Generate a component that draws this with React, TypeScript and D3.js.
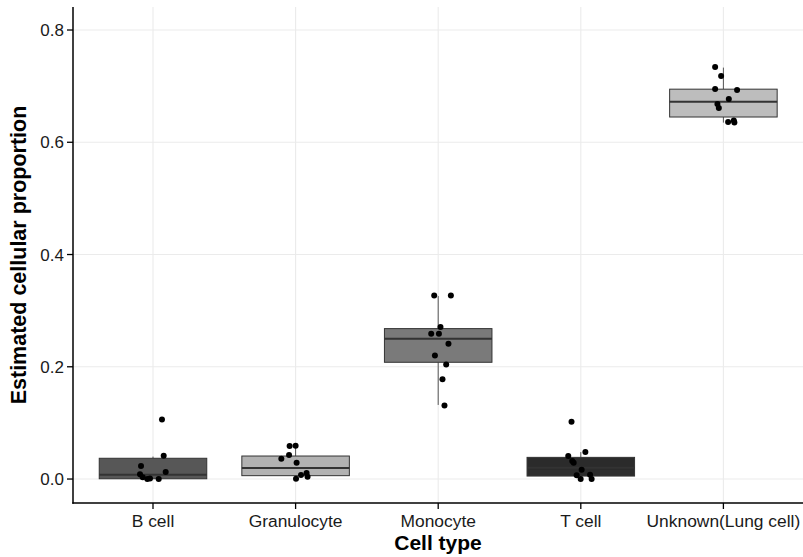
import React from "react";
import * as d3 from "d3";

const categories = ["B cell", "Granulocyte", "Monocyte", "T cell", "Unknown(Lung cell)"];
const boxFills = ["#575757", "#b2b2b2", "#7a7a7a", "#2b2b2b", "#bdbdbd"];
const q1 = [0.0005, 0.006, 0.208, 0.0053, 0.645];
const medians = [0.0078, 0.0196, 0.25, 0.02, 0.672];
const q3 = [0.037, 0.041, 0.268, 0.0386, 0.6946];
const whiskerLow = [0.0, 0.0005, 0.132, 0.0, 0.635];
const whiskerHigh = [0.040, 0.059, 0.326, 0.048, 0.733];

const pointValues = [
  [0.106, 0.0415, 0.023, 0.0125, 0.0084, 0.003, 0.0, 0.0, 0.001],
  [0.059, 0.0592, 0.036, 0.043, 0.029, 0.0107, 0.004, 0.007, 0.0005],
  [0.327, 0.327, 0.271, 0.259, 0.259, 0.241, 0.22, 0.204, 0.178, 0.131],
  [0.102, 0.048, 0.041, 0.032, 0.029, 0.0166, 0.0066, 0.0077, 0.0, 0.0],
  [0.734, 0.718, 0.695, 0.693, 0.677, 0.668, 0.661, 0.636, 0.639, 0.635],
];
// horizontal jitter, in category units
const pointJitter = [
  [0.063, 0.075, -0.084, 0.089, -0.091, -0.072, -0.04, 0.04, -0.021],
  [-0.042, 0.0, -0.1, -0.046, 0.007, 0.077, 0.084, 0.038, 0.003],
  [-0.028, 0.089, 0.016, -0.049, 0.005, 0.072, -0.023, 0.056, 0.03, 0.044],
  [-0.065, 0.032, -0.088, -0.06, -0.05, 0.006, -0.029, 0.065, -0.001, 0.076],
  [-0.058, -0.016, -0.058, 0.096, 0.038, -0.042, -0.032, 0.033, 0.073, 0.077],
];
const yTicks = [0.0, 0.2, 0.4, 0.6, 0.8];

const W = 803;
const H = 557;
const panelLeft = 73;
const panelRight = 803;
const panelTop = 7;
const panelBottom = 503;

export default function App() {
  const x = d3.scalePoint<string>().domain(categories).range([153, 723.4]);
  const step = x.step();
  const y = d3.scaleLinear().domain([-0.0427, 0.841]).range([panelBottom, panelTop]);
  const boxW = step * 0.754;
  const font = "'Liberation Sans', Arial, Helvetica, sans-serif";

  return (
    <svg
      width={W}
      height={H}
      style={{ position: "absolute", left: 0, top: 0, background: "#fff" }}
      fontFamily={font}
    >
      <rect x={0} y={0} width={W} height={H} fill="#fff" />
      {/* grid */}
      {yTicks.map((t) => (
        <line key={"gy" + t} x1={panelLeft} x2={panelRight} y1={y(t)} y2={y(t)} stroke="#ebebeb" strokeWidth={1.1} />
      ))}
      {categories.map((c) => (
        <line key={"gx" + c} x1={x(c)} x2={x(c)} y1={panelTop} y2={panelBottom} stroke="#ebebeb" strokeWidth={1.1} />
      ))}
      {/* boxes */}
      {categories.map((c, i) => {
        const cx = x(c) as number;
        return (
          <g key={"b" + c}>
            <line x1={cx} x2={cx} y1={y(whiskerHigh[i])} y2={y(q3[i])} stroke="#555" strokeWidth={1} />
            <line x1={cx} x2={cx} y1={y(q1[i])} y2={y(whiskerLow[i])} stroke="#555" strokeWidth={1} />
            <rect
              x={cx - boxW / 2}
              y={y(q3[i])}
              width={boxW}
              height={y(q1[i]) - y(q3[i])}
              fill={boxFills[i]}
              stroke="#333"
              strokeWidth={1}
            />
            <line
              x1={cx - boxW / 2}
              x2={cx + boxW / 2}
              y1={y(medians[i])}
              y2={y(medians[i])}
              stroke="#333"
              strokeWidth={2}
            />
          </g>
        );
      })}
      {/* points */}
      {categories.map((c, i) =>
        pointValues[i].map((v, j) => (
          <circle
            key={"p" + i + "-" + j}
            cx={(x(c) as number) + pointJitter[i][j] * step}
            cy={y(v)}
            r={3}
            fill="#000"
          />
        ))
      )}
      {/* axes */}
      <line x1={panelLeft} x2={panelLeft} y1={panelTop} y2={panelBottom + 0.7} stroke="#000" strokeWidth={1.5} />
      <line x1={panelLeft - 0.7} x2={panelRight} y1={panelBottom} y2={panelBottom} stroke="#000" strokeWidth={1.5} />
      {yTicks.map((t) => (
        <g key={"ty" + t}>
          <line x1={panelLeft - 6} x2={panelLeft} y1={y(t)} y2={y(t)} stroke="#000" strokeWidth={1.3} />
          <text x={panelLeft - 9} y={y(t)} dy="0.36em" textAnchor="end" fontSize={17} fill="#1a1a1a">
            {d3.format(".1f")(t)}
          </text>
        </g>
      ))}
      {categories.map((c) => (
        <g key={"tx" + c}>
          <line x1={x(c)} x2={x(c)} y1={panelBottom} y2={panelBottom + 6} stroke="#000" strokeWidth={1.3} />
          <text x={x(c)} y={527} textAnchor="middle" fontSize={17.4} fill="#1a1a1a">
            {c}
          </text>
        </g>
      ))}
      <text x={(panelLeft + panelRight) / 2} y={550} textAnchor="middle" fontSize={21} fontWeight="bold" fill="#000">
        Cell type
      </text>
      <text
        transform={`translate(26,${(panelTop + panelBottom) / 2}) rotate(-90)`}
        textAnchor="middle"
        fontSize={21.5}
        fontWeight="bold"
        fill="#000"
      >
        Estimated cellular proportion
      </text>
    </svg>
  );
}
